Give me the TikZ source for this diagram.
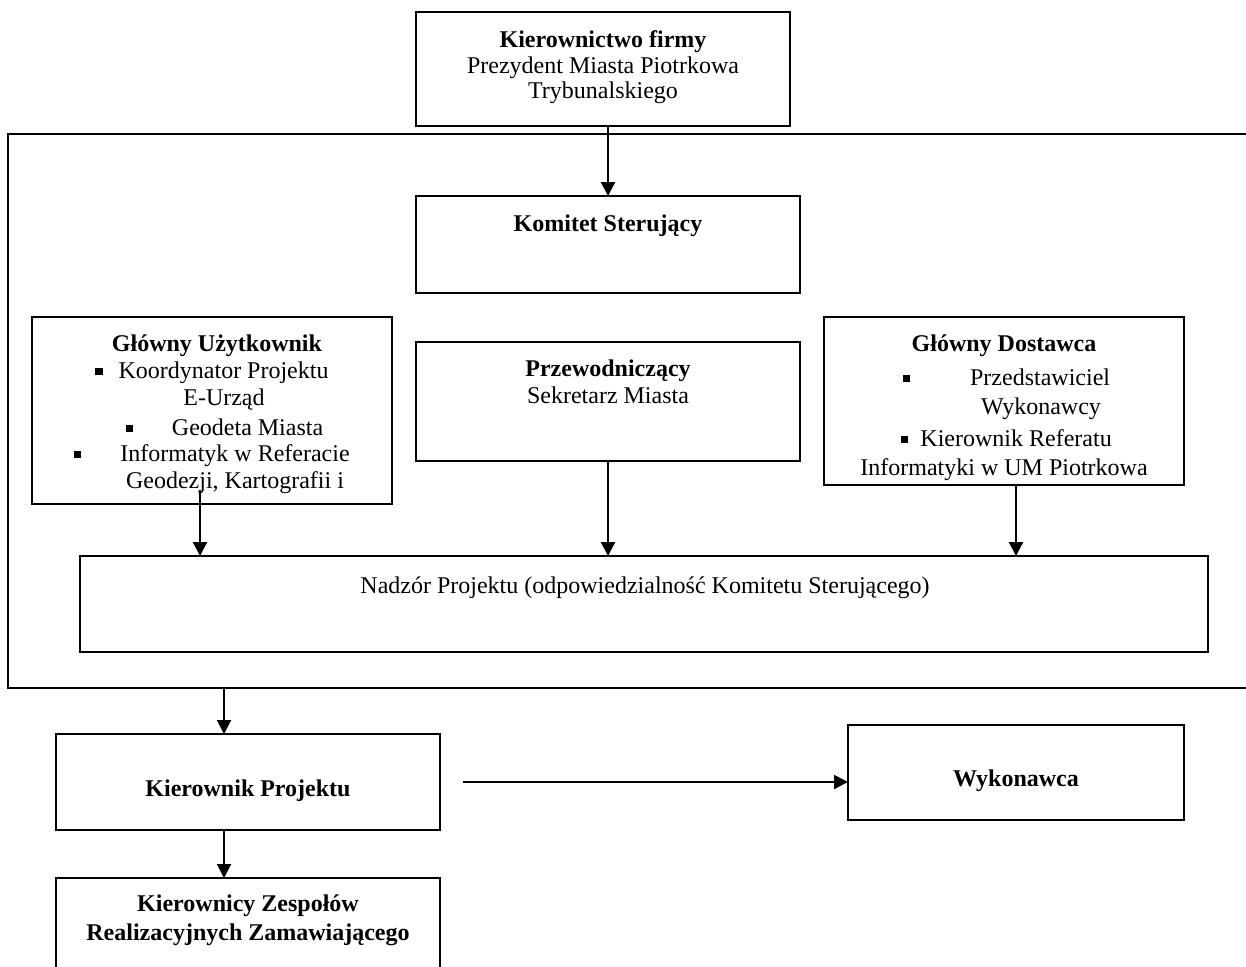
\documentclass[tikz,border=0pt]{standalone}
\usepackage{fontspec}
\setmainfont{Liberation Serif}
\usetikzlibrary{arrows.meta}
\newcommand{\sqbul}{\rule[2pt]{3.6pt}{3.6pt}}

\begin{document}
\begin{tikzpicture}[x=0.5pt,y=-0.5pt,
    box/.style={draw,line width=1pt,inner sep=0pt,outer sep=0pt},
    txt/.style={align=center,inner sep=0pt,font=\fontsize{12}{13.5}\selectfont},
    arr/.style={line width=1pt,->},
    >={Triangle[length=7pt,width=7pt]}]

    \useasboundingbox (0,0) rectangle (1246,966);
    \clip (0,0) rectangle (1246,966);

    % outer frame (runs past the right edge)
    \node[box,minimum width=631pt,minimum height=277pt] (frame) at (639,411) {};

    % boxes
    \node[box,minimum width=187pt,minimum height=57pt] (firma) at (603,69) {};
    \node[box,minimum width=192pt,minimum height=48.5pt] (komitet) at (608,244.5) {};
    \node[box,minimum width=180pt,minimum height=93.5pt] (uzyt) at (212,410.5) {};
    \node[box,minimum width=192pt,minimum height=59.5pt] (przew) at (608,401.5) {};
    \node[box,minimum width=180pt,minimum height=84pt] (dost) at (1004,401) {};
    \node[box,minimum width=564pt,minimum height=48pt] (nadzor) at (644,604) {};
    \node[box,minimum width=192pt,minimum height=48pt] (kp) at (248,782) {};
    \node[box,minimum width=192pt,minimum height=61pt] (kzr) at (248,939) {};
    \node[box,minimum width=168pt,minimum height=47.5pt] (wyk) at (1016,772.5) {};

    % texts
    \node[txt] (firmaT) at (603,67.5) {\textbf{Kierownictwo firmy}\\[-0.5pt]
        Prezydent Miasta Piotrkowa\\[-1pt] Trybunalskiego};
    \node[txt] (komitetT) at (608,226) {\textbf{Komitet Sterujący}};
    \node[txt] (uzytT) at (212,414.5) {\hspace*{5pt}\textbf{Główny Użytkownik}\\
        \sqbul\hspace{8pt}Koordynator Projektu\\
        \hspace*{12pt}E-Urząd\\[1.5pt]
        \hspace*{12.5pt}\sqbul\hspace{19.5pt}Geodeta Miasta\\[-0.5pt]
        \sqbul\hspace{19.5pt}Informatyk w Referacie\\
        \hspace*{23pt}Geodezji, Kartografii i};
    \node[txt] (przewT) at (608,382) {\textbf{Przewodniczący}\\ Sekretarz Miasta};
    \node[txt] (dostT) at (1004,408) {\textbf{Główny Dostawca}\\[3.5pt]
        \hspace*{2.5pt}\sqbul\hspace{30pt}Przedstawiciel\\[1pt]
        \hspace*{37pt}Wykonawcy\\[2.5pt]
        \hspace*{2.5pt}\sqbul\hspace{6pt}Kierownik Referatu\\[1pt]
        Informatyki w UM Piotrkowa};
    \node[txt] (nadzorT) at (645,587.5) {Nadzór Projektu (odpowiedzialność Komitetu Sterującego)};
    \node[txt] (kpT) at (248,790.5) {\textbf{Kierownik Projektu}};
    \node[txt] (kzrT) at (248,920.5) {\textbf{Kierownicy Zespołów}\\[1pt]
        \textbf{Realizacyjnych Zamawiającego}};
    \node[txt] (wykT) at (1016,781) {\textbf{Wykonawca}};

    % arrows
    \draw[arr] (komitet.north |- firma.south) -- (komitet.north);
    \coordinate (uzOut) at (200,490);
    \draw[arr] (uzOut) -- (uzOut |- nadzor.north);
    \draw[arr] (przew.south) -- (przew.south |- nadzor.north);
    \coordinate (doOut) at ([xshift=6pt]dost.south);
    \draw[arr] (doOut) -- (doOut |- nadzor.north);
    \coordinate (kpIn) at ([xshift=-12pt]kp.north);
    \draw[arr] (kpIn |- frame.south) -- (kpIn);
    \draw[arr] (kpIn |- kp.south) -- (kpIn |- kzr.north);
    \coordinate (kpOut) at (463,782);
    \draw[arr] (kpOut) -- (kpOut -| wyk.west);

\end{tikzpicture}
\end{document}
